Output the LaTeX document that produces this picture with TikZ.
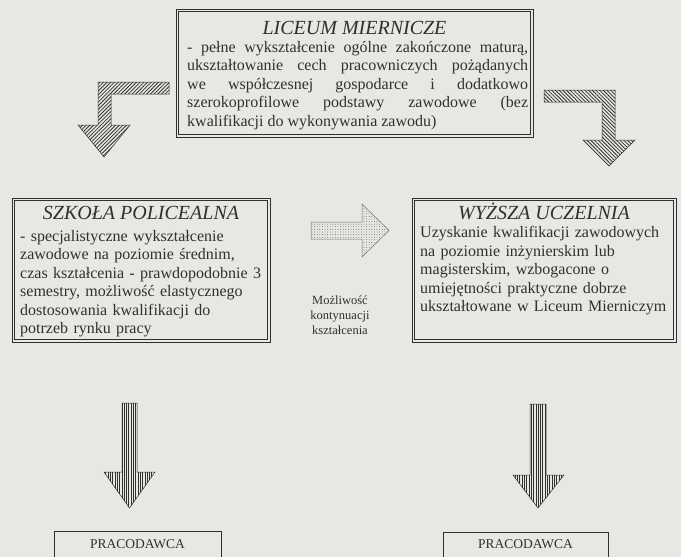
\documentclass[tikz,border=0pt]{standalone}
\usepackage{fontspec}
\setmainfont{Liberation Serif}
\usetikzlibrary{patterns,patterns.meta}
\definecolor{paper}{RGB}{231,231,228}
\definecolor{ink}{RGB}{48,48,48}
\begin{document}
\begin{tikzpicture}[x=1pt,y=-1pt,
  framebox/.style={draw=ink, line width=0.6pt, inner sep=0},
  innerframe/.style={draw=ink, line width=0.6pt},
  plainbox/.style={draw=ink, line width=0.6pt, inner sep=0},
  boxtitle/.style={font=\fontsize{20}{24}\selectfont\itshape, text=ink, inner sep=0, anchor=base},
  bodytext/.style={text=ink, inner sep=0, anchor=north west, font=\fontsize{16}{18.5}\selectfont},
  hatchL/.style={draw=ink, line width=0.5pt, pattern={Lines[angle=45,distance=2.6pt,line width=0.8pt]}, pattern color=ink},
  hatchR/.style={draw=ink, line width=0.5pt, pattern={Lines[angle=-45,distance=2.6pt,line width=0.8pt]}, pattern color=ink},
  hatchV/.style={draw=ink, line width=0.5pt, pattern={Lines[angle=90,distance=2.3pt,line width=0.7pt]}, pattern color=ink},
  dotarrow/.style={draw=ink!70, line width=0.5pt, pattern={Dots[distance=2.6pt,radius=0.45pt]}, pattern color=ink!80},
  smalltext/.style={text=ink, inner sep=0, font=\fontsize{12.5}{15}\selectfont},
  captext/.style={text=ink, inner sep=0, anchor=base, font=\fontsize{13.5}{15}\selectfont}
]
\useasboundingbox[fill=paper] (0,0) rectangle (681,557);
\clip (0,0) rectangle (681,557);

% top box
\node[framebox, minimum width=357pt, minimum height=128pt] (lic) at (354.5,73) {};
\draw[innerframe] ([shift={(3,3)}]lic.north west) rectangle ([shift={(-3,-3)}]lic.south east);
\node[boxtitle] (lictitle) at (354.5,34) {LICEUM MIERNICZE};
\node[bodytext, text width=341pt, align=justify] (licbody) at (187,39.05) {\strut- pełne wykształcenie ogólne zakończone maturą,\linebreak ukształtowanie cech pracowniczych pożądanych\linebreak we współczesnej gospodarce i dodatkowo\linebreak szerokoprofilowe podstawy zawodowe (bez\linebreak kwalifikacji do wykonywania zawodu)};

% left box
\node[framebox, minimum width=258pt, minimum height=144pt] (szk) at (141,270) {};
\draw[innerframe] ([shift={(3,3)}]szk.north west) rectangle ([shift={(-3,-3)}]szk.south east);
\node[boxtitle] (szktitle) at (141,219) {SZKOŁA POLICEALNA};
\node[bodytext, text width=248pt, align=left] (szkbody) at (20,228.05) {\strut- specjalistyczne wykształcenie\\ zawodowe na poziomie średnim,\\ czas kształcenia - prawdopodobnie 3\\ semestry, możliwość elastycznego\\ dostosowania kwalifikacji do\\ potrzeb rynku pracy};

% right box
\node[framebox, minimum width=264pt, minimum height=144pt] (wyz) at (544,270) {};
\draw[innerframe] ([shift={(3,3)}]wyz.north west) rectangle ([shift={(-3,-3)}]wyz.south east);
\node[boxtitle] (wyztitle) at (544,219) {WYŻSZA UCZELNIA};
\node[bodytext, text width=254pt, align=left] (wyzbody) at (420,224.55) {\strut Uzyskanie kwalifikacji zawodowych\\ na poziomie inżynierskim lub\\ magisterskim, wzbogacone o\\ umiejętności praktyczne dobrze\\ ukształtowane w Liceum Mierniczym};

% bent hatched arrows
\draw[hatchL] (169,82) -- (98,82) -- (98,125) -- (78,125) -- (104,157) -- (130,125) -- (111,125) -- (111,94) -- (169,94) -- cycle;
\draw[hatchR] (544,90) -- (615,90) -- (615,140) -- (635,140) -- (609,166) -- (583,140) -- (602,140) -- (602,102) -- (544,102) -- cycle;

% dotted arrow and label
\draw[dotarrow] (311,222) -- (362,222) -- (362,204) -- (389,230.5) -- (362,257) -- (362,239) -- (311,239) -- cycle;
\node[smalltext, text width=80pt, align=center, anchor=north] (kont) at (340,293.5) {\strut Możliwość\\ kontynuacji\\ kształcenia};

% vertical arrows
\draw[hatchV] (122,403) -- (137,403) -- (137,472) -- (155,472) -- (129.5,508) -- (104,472) -- (122,472) -- cycle;
\draw[hatchV] (530,404) -- (546,404) -- (546,475) -- (564,475) -- (538,508) -- (513,475) -- (530,475) -- cycle;

% employer boxes
\node[plainbox, minimum width=167pt, minimum height=40pt, anchor=north] (prac1) at (137.5,531) {};
\node[captext] (prac1t) at (137.5,548) {PRACODAWCA};
\node[plainbox, minimum width=165pt, minimum height=40pt, anchor=north] (prac2) at (525.5,532) {};
\node[captext] (prac2t) at (525.5,548) {PRACODAWCA};
\end{tikzpicture}
\end{document}
